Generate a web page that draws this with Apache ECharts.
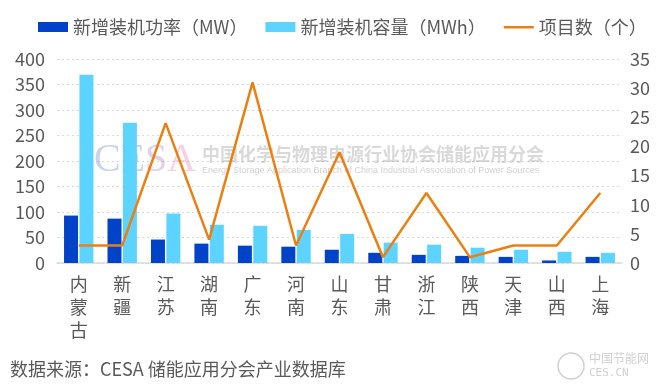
<!DOCTYPE html>
<html>
<head>
<meta charset="utf-8">
<script src="https://cdn.jsdelivr.net/npm/echarts@6/dist/echarts.min.js"></script>
<style>
html,body{margin:0;padding:0;background:#fff;}
#chart{width:665px;height:389px;}
</style>
</head>
<body>
<div id="chart"></div>
<script>
var categories = ['内蒙古','新疆','江苏','湖南','广东','河南','山东','甘肃','浙江','陕西','天津','山西','上海'];
var powerMW = [93, 87, 46, 38, 34, 32, 26, 20, 16, 14, 12, 5, 12];
var capacityMWh = [369, 275, 97, 75, 73, 65, 57, 40, 36, 30, 26, 22, 20];
var projectCount = [3, 3, 24, 4, 31, 3, 19, 1, 12, 1, 3, 3, 12];
var leftTicks = {min: 0, max: 400, interval: 50};
var rightTicks = {min: 0, max: 35, interval: 5};
var seriesNames = ['新增装机功率（MW）', '新增装机容量（MWh）', '项目数（个）'];

var FONT = '"Microsoft YaHei","Noto Sans CJK SC",sans-serif';
var TXT = '#595959';
var LINE_ICON = 'path://M0,0 L0.01,0 M0,4 L30,4 L30,6.5 L0,6.5 Z M30,10 L29.99,10';
var chart = echarts.init(document.getElementById('chart'), null, {renderer: 'canvas'});
var serifFont = '"Liberation Serif", serif';
var option = {
  animation: false,
  backgroundColor: '#ffffff',
  textStyle: {fontFamily: FONT},
  legend: {
    left: 33, top: 13,
    itemWidth: 30, itemHeight: 10, itemGap: 18,
    textStyle: {fontSize: 18, color: TXT, fontFamily: FONT},
    data: [
      {name: seriesNames[0], icon: 'rect'},
      {name: seriesNames[1], icon: 'rect'},
      {name: seriesNames[2], icon: LINE_ICON}
    ]
  },
  grid: {left: 57, right: 43, top: 59, bottom: 126, containLabel: false},
  xAxis: {
    type: 'category',
    data: categories,
    axisLine: {lineStyle: {color: '#D9D9D9', width: 1.5}},
    axisTick: {show: false},
    axisLabel: {
      interval: 0, fontSize: 18, color: TXT, lineHeight: 23, margin: 10,
      verticalAlign: 'top',
      formatter: function (v) { return v.split('').join('\n'); }
    }
  },
  yAxis: [
    {
      type: 'value', min: leftTicks.min, max: leftTicks.max, interval: leftTicks.interval,
      axisLine: {show: false}, axisTick: {show: false},
      axisLabel: {fontSize: 18, color: TXT, margin: 12},
      splitLine: {lineStyle: {color: '#D9D9D9', type: [2, 3]}}
    },
    {
      type: 'value', min: rightTicks.min, max: rightTicks.max, interval: rightTicks.interval,
      axisLine: {show: false}, axisTick: {show: false},
      axisLabel: {fontSize: 18, color: TXT, margin: 8},
      splitLine: {show: false}
    }
  ],
  series: [
    {
      name: seriesNames[0], type: 'bar', data: powerMW, yAxisIndex: 0,
      barWidth: 14, barGap: '10%',
      itemStyle: {color: '#0043C8'}
    },
    {
      name: seriesNames[1], type: 'bar', data: capacityMWh, yAxisIndex: 0,
      barWidth: 14, barGap: '10%',
      itemStyle: {color: '#5CD4FF'}
    },
    {
      name: seriesNames[2], type: 'line', data: projectCount, yAxisIndex: 1,
      symbol: 'none', showSymbol: false, z: 5,
      lineStyle: {color: '#EB8010', width: 2.5},
      itemStyle: {color: '#EB8010'}
    }
  ],
  graphic: [
    {
      type: 'text', left: 94, top: 140, z: 1, silent: true,
      style: {
        text: '{c|C}{e|E}{s|S}{a|A}',
        rich: {
          c: {font: '40px ' + serifFont, fill: 'rgba(110,125,190,0.35)'},
          e: {font: '40px ' + serifFont, fill: 'rgba(120,130,200,0.35)'},
          s: {font: '40px ' + serifFont, fill: 'rgba(170,120,190,0.35)'},
          a: {font: '40px ' + serifFont, fill: 'rgba(235,120,170,0.35)'}
        }
      }
    },
    {
      type: 'text', left: 202, top: 145, z: 1, silent: true,
      style: {text: '中国化学与物理电源行业协会储能应用分会', font: 'bold 18px ' + FONT, fill: 'rgba(160,160,160,0.4)'}
    },
    {
      type: 'text', left: 202, top: 166, z: 1, silent: true,
      style: {text: 'Energy Storage Application Branch of China Industrial Association of Power Sources', font: '9px "Liberation Sans", Arial, sans-serif', fill: 'rgba(150,150,150,0.45)'}
    },
    {
      type: 'text', left: 10, top: 360, silent: true,
      style: {text: '数据来源：CESA 储能应用分会产业数据库', font: '18px ' + FONT, fill: TXT}
    },
    {
      type: 'circle', shape: {cx: 571, cy: 366, r: 13}, silent: true,
      style: {fill: 'none', stroke: '#D0D0D0', lineWidth: 1.5}
    },
    {
      type: 'text', left: 589, top: 352, silent: true,
      style: {text: '中国节能网', font: '12px ' + FONT, fill: '#D0D0D0'}
    },
    {
      type: 'text', left: 589, top: 368, silent: true,
      style: {text: 'CES.CN', font: '11px "DejaVu Sans Mono", monospace', fill: '#D0D0D0'}
    }
  ]
};
chart.setOption(option);
</script>
</body>
</html>
